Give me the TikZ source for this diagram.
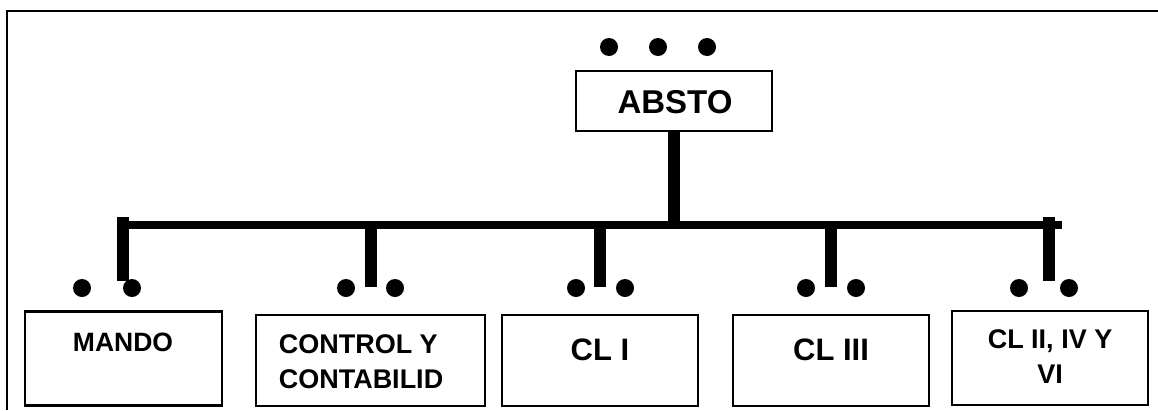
\documentclass[tikz,border=0pt]{standalone}
\usepackage{fontspec}
\setmainfont{Liberation Sans}

\tikzset{
  unidad/.style={draw, line width=2.5pt, inner sep=0pt, minimum height=91pt, minimum width=196pt},
  rotulo/.style={font=\bfseries\fontsize{27}{35}\selectfont, align=center, inner sep=0pt},
  barra/.style={line width=8pt},
  tallo/.style={line width=12pt},
  punto/.style={fill=black}
}

\begin{document}
\begin{tikzpicture}[x=1pt,y=-1pt]
\useasboundingbox (0,0) rectangle (1158,410);
% marco
\draw[line width=2.5pt] (7,410) -- (7,11) -- (1158,11);

% jefe
\node[unidad, minimum height=60pt] (absto) at (674,101) {};
\node[rotulo, font=\bfseries\fontsize{33}{35}\selectfont] (tabsto) at (675,102) {ABSTO};

% dependencias
\node[unidad, minimum height=94pt, minimum width=197pt] (mando) at (123.5,358.5) {};
\node[unidad, minimum width=229pt] (control) at (370.5,360.5) {};
\node[unidad] (cli) at (600,360.5) {};
\node[unidad] (cliii) at (831,360.5) {};
\node[unidad, minimum height=94pt] (clii) at (1050,358) {};

\node[rotulo, font=\bfseries\fontsize{26.5}{35}\selectfont] (tmando) at (123,342) {MANDO};
\node[rotulo, align=left] (tcontrol) at (361,362) {CONTROL Y\\CONTABILID};
\node[rotulo, font=\bfseries\fontsize{31}{35}\selectfont] (tcli) at (600,350) {CL I};
\node[rotulo, font=\bfseries\fontsize{31}{35}\selectfont] (tcliii) at (831,350) {CL III};
\node[rotulo] (tclii) at (1050,357) {CL II, IV Y\\VI};

% lineas de mando
\coordinate (bi) at (117,225);
\coordinate (bd) at (1062,225);
\draw[barra] (bi) -- (bd);
\draw[tallo] (absto.south) -- (absto.south |- bi);
\draw[tallo] (123,217) -- (123,281);
\draw[tallo] (1049,217) -- (1049,281);
\foreach \u in {control, cli, cliii}
  \draw[tallo] (\u.north |- bi) -- ([yshift=27pt]\u.north);

% puntos
\foreach \x in {609,658,707}
  \fill[punto] (\x,47) circle (9pt);
\foreach \x in {82,132,346,395,576,625,806,856,1019,1069}
  \fill[punto] (\x,288) circle (9pt);
\end{tikzpicture}
\end{document}
